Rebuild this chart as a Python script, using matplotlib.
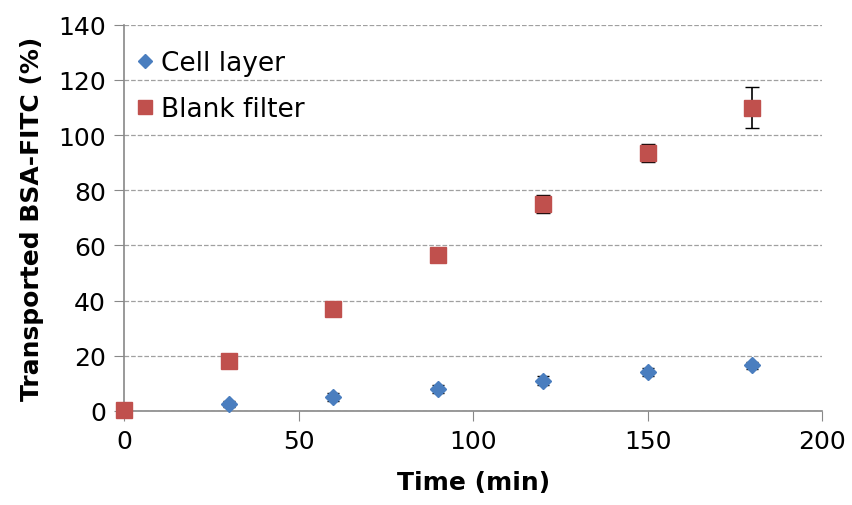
import matplotlib
matplotlib.use("Agg")
import matplotlib.pyplot as plt
from matplotlib.lines import Line2D

time = [0, 30, 60, 90, 120, 150, 180]
cell_layer = [0.3, 2.5, 5.0, 8.0, 11.0, 14.0, 16.5]
cell_err = [0.3, 1.2, 1.5, 1.5, 1.5, 1.5, 1.2]
blank_filter = [0.5, 18.0, 37.0, 56.5, 75.0, 93.5, 110.0]
blank_err = [0.3, 0.8, 0.8, 1.0, 3.2, 3.3, 7.5]

fig = plt.figure(figsize=(8.52, 5.06), dpi=100)
ax = fig.add_axes([0.1455, 0.186, 0.8195, 0.763])

c1 = ax.errorbar(time[1:], cell_layer[1:], yerr=cell_err[1:], fmt='D', color='#4a7ebf',
                 ecolor='black', elinewidth=1.2, capsize=4, markersize=8, zorder=3)
c2 = ax.errorbar(time, blank_filter, yerr=blank_err, fmt='s', color='#c0504d',
                 ecolor='black', elinewidth=1.2, capsize=5, markersize=11, zorder=3)
for cont in (c1, c2):
    for art in cont.get_children():
        art.set_clip_on(False)

ax.set_xlim(0, 200)
ax.set_ylim(0, 140)
ax.set_xticks([0, 50, 100, 150, 200])
ax.set_yticks(range(0, 141, 20))
ax.yaxis.grid(True, linestyle='--', color='#a0a0a0', linewidth=0.9)
ax.set_axisbelow(True)
for s in ['top', 'right']:
    ax.spines[s].set_visible(False)
for s in ['left', 'bottom']:
    ax.spines[s].set_color('#888888')
    ax.spines[s].set_linewidth(1.2)
ax.tick_params(axis='both', direction='out', length=7, color='#888888',
               labelsize=18, pad=6)
ax.set_xlabel('Time (min)', fontsize=18, fontweight='bold', labelpad=12)
ax.set_ylabel('Transported BSA-FITC (%)', fontsize=18, fontweight='bold', labelpad=10)

h = [Line2D([], [], marker='D', color='#4a7ebf', linestyle='none', markersize=7),
     Line2D([], [], marker='s', color='#c0504d', linestyle='none', markersize=10)]
ax.legend(h, ['Cell layer', 'Blank filter'], loc='upper left', frameon=False,
          fontsize=19, handletextpad=0.1, handlelength=1.0,
          bbox_to_anchor=(-0.023, 0.995), labelspacing=0.75)

fig.savefig('out.png', dpi=100)
